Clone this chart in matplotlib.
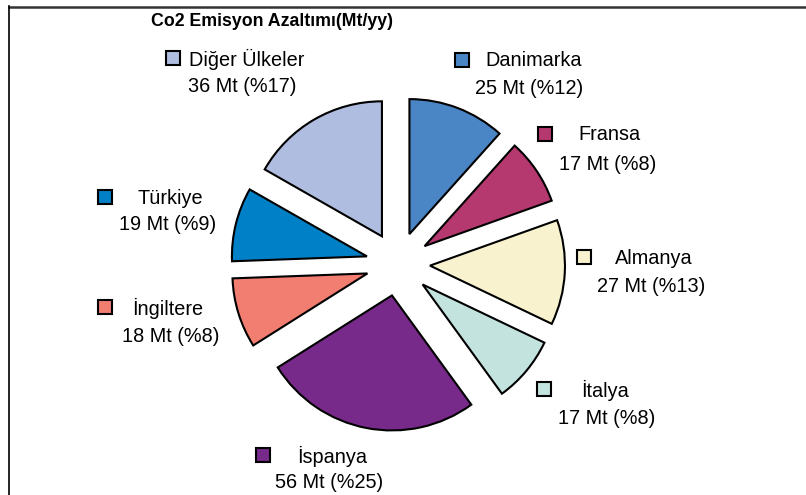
import matplotlib.pyplot as plt
from matplotlib.patches import Rectangle
from matplotlib.lines import Line2D

# --- Veri (saat yönünde, tepeden başlayarak) ---
ulkeler = ["Danimarka", "Fransa", "Almanya", "İtalya", "İspanya",
           "İngiltere", "Türkiye", "Diğer Ülkeler"]
degerler = [25, 17, 27, 17, 56, 18, 19, 36]
etiketler = ["25 Mt (%12)", "17 Mt (%8)", "27 Mt (%13)", "17 Mt (%8)",
             "56 Mt (%25)", "18 Mt (%8)", "19 Mt (%9)", "36 Mt (%17)"]
renkler = ["#4a86c6", "#b5386f", "#f8f3ce", "#c3e3df",
           "#772a8a", "#f27e72", "#0080c6", "#afbde0"]

# --- Yerleşim (piksel, üst-sol orijin) ---
W, H = 806, 495
MERKEZ = (398, H - 264)
YARICAP = 135
PATLAMA = 32
# (kare x, kare y, isim x, değer x, değer y)
etiket_konum = [
    (455, 60, 485, 475, 89),
    (538, 134, 578, 559, 164),
    (577, 257, 615, 597, 286),
    (537, 389, 581, 558, 418),
    (256, 455, 297, 275, 482),
    (98, 307, 132, 122, 337),
    (98, 197, 137, 119, 225),
    (166, 58, 189, 188, 86),
]
KARE = 14
FONT = ["Liberation Sans", "DejaVu Sans"]

fig = plt.figure(figsize=(W / 100, H / 100), dpi=100)
ax = fig.add_axes([0, 0, 1, 1])

ax.pie(degerler, colors=renkler, startangle=90, counterclock=False,
       center=MERKEZ, radius=YARICAP, explode=[PATLAMA] * len(degerler),
       wedgeprops=dict(edgecolor="black", linewidth=1.5))
ax.set_xlim(0, W)
ax.set_ylim(0, H)
ax.set_aspect("auto")
ax.axis("off")

for renk, ad, etiket, (kx, ky, ix, dx, dy) in zip(renkler, ulkeler, etiketler, etiket_konum):
    ax.add_patch(Rectangle((kx, H - ky - KARE / 2), KARE, KARE,
                           facecolor=renk, edgecolor="black", linewidth=1.5))
    ax.text(ix, H - ky - 1, ad, ha="left", va="center", fontsize=14.3, family=FONT)
    ax.text(dx, H - dy, etiket, ha="left", va="center", fontsize=14.3, family=FONT)

ax.text(272, H - 22, "Co2 Emisyon Azaltımı(Mt/yy)", ha="center", va="center",
        fontsize=12.8, fontweight="bold", family=FONT)

# çerçeve (üst ve sol kenar)
fig.add_artist(Line2D([9 / W, 1], [1 - 6.5 / H] * 2, color="#333333", linewidth=1.8))
fig.add_artist(Line2D([9 / W] * 2, [1 - 6 / H, 0], color="black", linewidth=1.2))

fig.savefig("out.png", dpi=100)
